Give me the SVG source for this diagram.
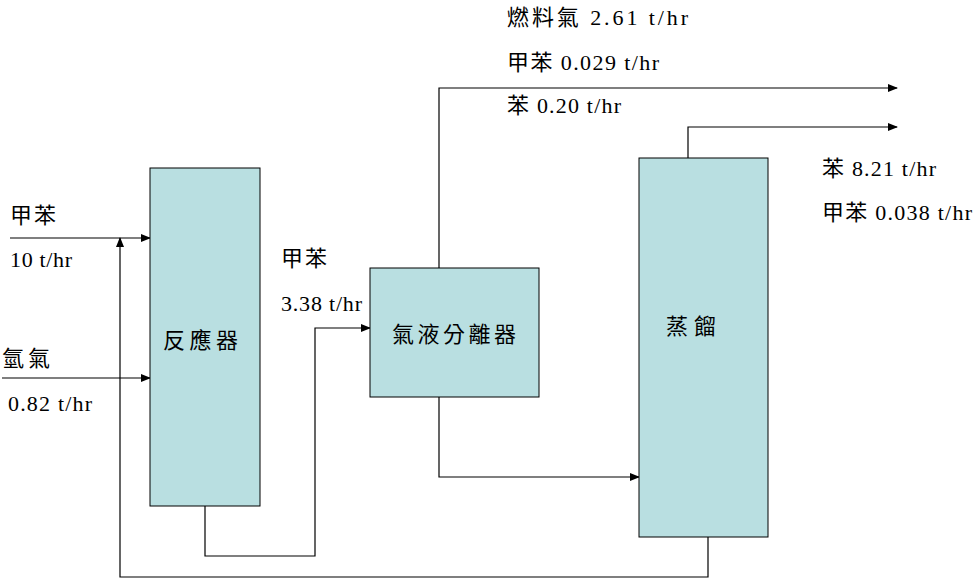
<svg xmlns="http://www.w3.org/2000/svg" width="976" height="581" viewBox="0 0 976 581">
<style>
.box{fill:#b9dfe1;stroke:#000;stroke-width:1}
.ln{fill:none;stroke:#000;stroke-width:1.2}
text{font-family:"Liberation Serif","Noto Sans CJK TC",serif;font-size:22px;fill:#000}
</style>
<defs><marker id="a" markerWidth="10" markerHeight="8" refX="9" refY="4" orient="auto" markerUnits="userSpaceOnUse"><path d="M0,0L10,4L0,8z" fill="#000"/></marker></defs>
<rect width="976" height="581" fill="#fff"/>
<g id="connectors">
<path class="ln" marker-end="url(#a)" d="M10,238H150"/>
<path class="ln" marker-end="url(#a)" d="M2,378H150"/>
<path class="ln" marker-end="url(#a)" d="M708,537V577H120V238"/>
<path class="ln" marker-end="url(#a)" d="M205,506V556H315V328H370"/>
<path class="ln" marker-end="url(#a)" d="M439,268V88H897"/>
<path class="ln" marker-end="url(#a)" d="M439,397V477H639"/>
<path class="ln" marker-end="url(#a)" d="M688,158V127H897"/>
</g>
<g id="reactor"><rect class="box" x="150" y="168" width="110" height="338"/><text x="163" y="348" textLength="75">反應器</text></g>
<g id="separator"><rect class="box" x="370" y="268" width="169" height="129"/><text x="392" y="342" textLength="124">氣液分離器</text></g>
<g id="distillation"><rect class="box" x="639" y="158" width="129" height="379"/><text x="666" y="334" textLength="50">蒸餾</text></g>
<g id="labels">
<text x="507" y="25" textLength="181">燃料氣 2.61 t/hr</text>
<text x="507" y="70" textLength="152">甲苯 0.029 t/hr</text>
<text x="507" y="113" textLength="114">苯 0.20 t/hr</text>
<text x="822" y="176" textLength="114">苯 8.21 t/hr</text>
<text x="822" y="220" textLength="150">甲苯 0.038 t/hr</text>
<text x="10" y="223" textLength="46">甲苯</text>
<text x="10" y="267" textLength="62">10 t/hr</text>
<text x="2" y="366" textLength="48">氫氣</text>
<text x="8" y="411" textLength="84">0.82 t/hr</text>
<text x="281" y="266" textLength="46">甲苯</text>
<text x="281" y="311" textLength="81">3.38 t/hr</text>
</g>
</svg>
